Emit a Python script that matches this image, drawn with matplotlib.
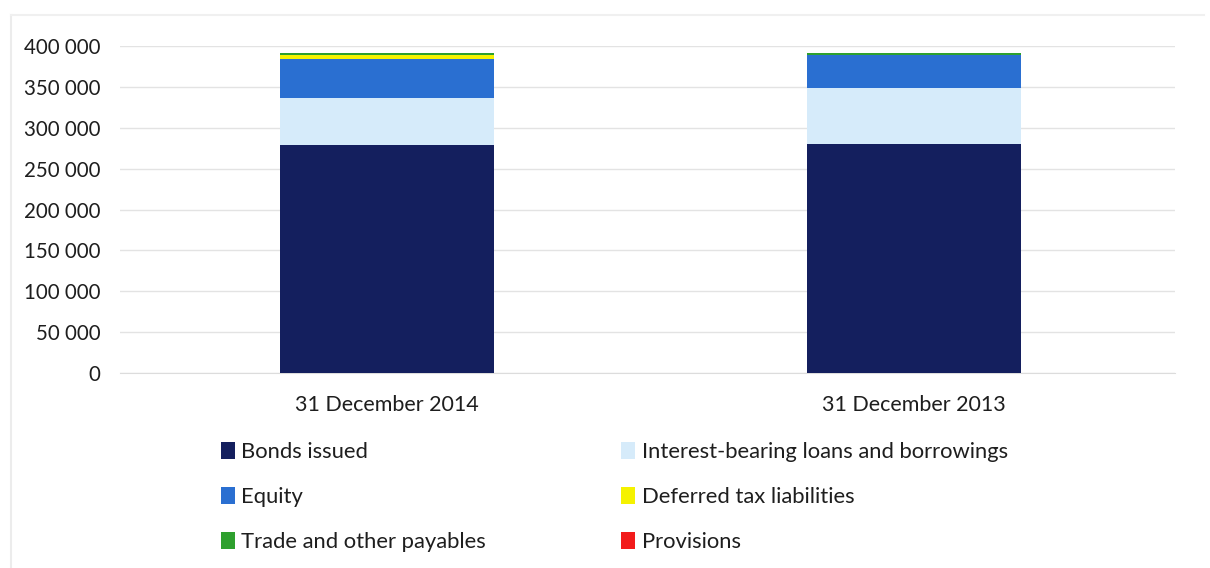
import numpy as np
import matplotlib.pyplot as plt
from matplotlib.patches import Patch
from matplotlib.lines import Line2D

# balance sheet structure, thousands
dates = ["31 December 2014", "31 December 2013"]
bonds = [279000, 280000]
loans = [57000, 69000]
equity = [48000, 40000]
deferred_tax = [5000, 0]
payables = [2000, 2000]
provisions = [0, 0]

names = ["Bonds issued", "Interest-bearing loans and borrowings", "Equity",
         "Deferred tax liabilities", "Trade and other payables", "Provisions"]
colors = ["#141f5e", "#d6ebfa", "#2a6fd1", "#f5f200", "#2ea02e", "#f21b1b"]
series = [bonds, loans, equity, deferred_tax, payables, provisions]

plt.rcParams['font.family'] = ['Lato', 'DejaVu Sans']

fig = plt.figure(figsize=(12.1, 5.68), dpi=100)
ax = fig.add_axes([0.099, 0.343, 0.872, 0.576])

x = np.arange(len(dates))
bottom = np.zeros(len(dates))
for vals, c in zip(series, colors):
    ax.bar(x, vals, bottom=bottom, width=0.405, color=c, zorder=3)
    bottom += np.array(vals)

ax.set_xlim(-0.506, 1.494)
ax.set_ylim(0, 400000)
ax.set_yticks(np.arange(0, 400001, 50000))
ax.yaxis.set_major_formatter(plt.FuncFormatter(lambda v, p: f"{int(v):,}".replace(",", " ")))
ax.set_xticks(x)
ax.set_xticklabels(dates)
ax.tick_params(length=0, colors="#1e1e1e")
ax.tick_params(axis="x", pad=16, labelsize=15.5)
ax.tick_params(axis="y", pad=14, labelsize=14.8)
ax.grid(axis="y", color="#e3e3e3", linewidth=1, zorder=0)
for s in ["top", "right", "left"]:
    ax.spines[s].set_visible(False)
ax.spines["bottom"].set_color("#dcdcdc")

# legend laid out row by row: reorder for column-major filling
order = [0, 2, 4, 1, 3, 5]
handles = [Patch(facecolor=colors[i], edgecolor="none") for i in order]
labels = [names[i] for i in order]
fig.legend(handles, labels, ncol=2, loc="upper left", bbox_to_anchor=(0.166, 0.256),
           frameon=False, fontsize=15.8, handlelength=0.65, handleheight=0.8,
           handletextpad=0.3, columnspacing=6.13, labelspacing=1.14,
           labelcolor="#1e1e1e")

# faint outer frame
fig.add_artist(Line2D([0.009, 0.009], [0.0, 0.974], color="#ececec", linewidth=1.5))
fig.add_artist(Line2D([0.009, 0.995], [0.974, 0.974], color="#f0f0f0", linewidth=1.5))

fig.savefig("out.png", dpi=100)
